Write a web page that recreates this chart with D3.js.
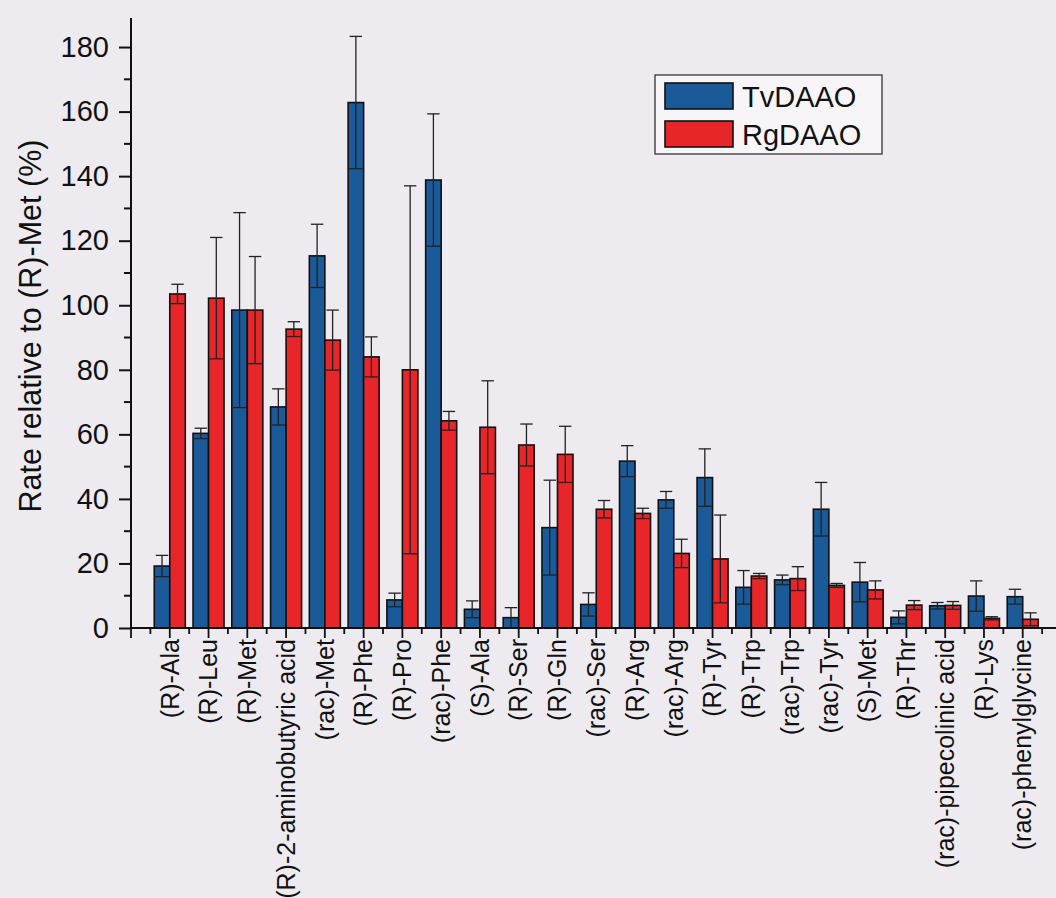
<!DOCTYPE html>
<html>
<head>
<meta charset="utf-8">
<script src="https://cdn.jsdelivr.net/npm/d3@7"></script>
<style>
html,body{margin:0;padding:0;background:#eeebf0;}
svg{display:block;}
text{font-family:"Liberation Sans",Arial,sans-serif;fill:#111;}
</style>
</head>
<body>
<svg id="chart" width="1056" height="898"></svg>
<script>
const categories = ["(R)-Ala","(R)-Leu","(R)-Met","(R)-2-aminobutyric acid","(rac)-Met","(R)-Phe","(R)-Pro","(rac)-Phe","(S)-Ala","(R)-Ser","(R)-Gln","(rac)-Ser","(R)-Arg","(rac)-Arg","(R)-Tyr","(R)-Trp","(rac)-Trp","(rac)-Tyr","(S)-Met","(R)-Thr","(rac)-pipecolinic acid","(R)-Lys","(rac)-phenylglycine"];
const tvValues = [19.2,60.3,98.5,68.5,115.3,162.8,8.7,138.8,5.8,3.2,31.1,7.3,51.7,39.7,46.6,12.6,14.9,36.8,14.2,3.3,6.9,9.9,9.7];
const tvErrors = [3.3,1.6,30.2,5.6,9.8,20.5,2.1,20.5,2.6,3.1,14.7,3.6,4.8,2.6,8.9,5.2,1.5,8.3,6.1,2.0,1.0,4.7,2.3];
const rgValues = [103.5,102.2,98.5,92.6,89.2,84.0,80.0,64.2,62.2,56.7,53.8,36.8,35.5,23.1,21.4,16.1,15.3,13.2,11.8,7.1,7.0,3.0,2.7];
const rgErrors = [3.0,18.8,16.6,2.3,9.3,6.2,57.0,2.9,14.4,6.5,8.7,2.7,1.6,4.4,13.6,0.8,3.7,0.6,2.8,1.4,1.2,0.5,2.0];
const seriesNames = ["TvDAAO","RgDAAO"];
const seriesColors = ["#1a5a98","#e8262a"];
const yTicks = [0,20,40,60,80,100,120,140,160,180];
const yLabel = "Rate relative to (R)-Met (%)";

const svg = d3.select("#chart");
const x = d3.scaleLinear().domain([-1, 23]).range([131, 1061.5]);
const y = d3.scaleLinear().domain([0, 189]).range([628, 18]);
const step = x(1) - x(0);
const barW = step * 0.4;

const series = [
  {name: seriesNames[0], values: tvValues, errors: tvErrors, color: seriesColors[0], off: -1},
  {name: seriesNames[1], values: rgValues, errors: rgErrors, color: seriesColors[1], off: 0}
];

// bars
series.forEach(s => {
  svg.append("g").selectAll("rect").data(s.values).join("rect")
    .attr("x", (d,i) => x(i) + s.off*barW)
    .attr("y", d => y(d))
    .attr("width", barW)
    .attr("height", d => y(0) - y(d))
    .attr("fill", s.color)
    .attr("stroke", "#111")
    .attr("stroke-width", 1.6);
});

// error bars
series.forEach(s => {
  const g = svg.append("g").attr("stroke", "#222").attr("stroke-width", 1.3);
  const capW = barW * 0.8;
  s.values.forEach((d,i) => {
    const cx = x(i) + s.off*barW + barW/2;
    const lo = Math.max(0, d - s.errors[i]), hi = d + s.errors[i];
    g.append("line").attr("x1", cx).attr("x2", cx).attr("y1", y(lo)).attr("y2", y(hi));
    g.append("line").attr("x1", cx - capW/2).attr("x2", cx + capW/2).attr("y1", y(hi)).attr("y2", y(hi));
    g.append("line").attr("x1", x(i) + s.off*barW + 1).attr("x2", x(i) + s.off*barW + barW - 1).attr("y1", y(lo)).attr("y2", y(lo));
  });
});

// y axis
const yAxis = svg.append("g").attr("transform", `translate(${x(-1)},0)`)
  .call(d3.axisLeft(y).tickValues(yTicks).tickSize(12).tickPadding(10).tickFormat(d3.format("d")));
yAxis.select(".domain").attr("d", `M0,${y(189)}V${y(0)}`).attr("stroke", "#111").attr("stroke-width", 2);
yAxis.selectAll(".tick line").attr("stroke", "#111").attr("stroke-width", 2);
yAxis.selectAll(".tick text").style("font-size", "29px").attr("fill", "#111");
const yMinor = d3.range(10, 190, 20);
svg.append("g").selectAll("line").data(yMinor).join("line")
  .attr("x1", x(-1) - 7).attr("x2", x(-1))
  .attr("y1", d => y(d)).attr("y2", d => y(d))
  .attr("stroke", "#111").attr("stroke-width", 2);

// x axis
svg.append("line").attr("x1", x(-1)).attr("x2", 1056).attr("y1", y(0)).attr("y2", y(0))
  .attr("stroke", "#111").attr("stroke-width", 2);
const xMajor = d3.range(-1, 23);
const xMinor = d3.range(-0.5, 23, 1);
svg.append("g").selectAll("line").data(xMajor).join("line")
  .attr("x1", d => x(d)).attr("x2", d => x(d))
  .attr("y1", y(0)).attr("y2", y(0) + 10)
  .attr("stroke", "#111").attr("stroke-width", 1.8);
svg.append("g").selectAll("line").data(xMinor).join("line")
  .attr("x1", d => x(d)).attr("x2", d => x(d))
  .attr("y1", y(0)).attr("y2", y(0) + 6)
  .attr("stroke", "#111").attr("stroke-width", 1.8);

svg.append("g").selectAll("text").data(categories).join("text")
  .attr("transform", (d,i) => `translate(${x(i)},${y(0) + 11}) rotate(-90)`)
  .attr("text-anchor", "end")
  .attr("dy", "0.35em")
  .style("font-size", "25px")
  .text(d => d);

// y label
svg.append("text")
  .attr("transform", `translate(41,326) rotate(-90)`)
  .attr("text-anchor", "middle")
  .style("font-size", "30.5px")
  .text(yLabel);

// legend
const lg = svg.append("g");
lg.append("rect").attr("x", 655).attr("y", 75).attr("width", 227).attr("height", 79)
  .attr("fill", "#f7f5f8").attr("stroke", "#333").attr("stroke-width", 1.3);
series.forEach((s,k) => {
  const yy = 83 + k*38;
  lg.append("rect").attr("x", 665).attr("y", yy).attr("width", 68).attr("height", 26)
    .attr("fill", s.color).attr("stroke", "#111").attr("stroke-width", 1.6);
  lg.append("text").attr("x", 742).attr("y", yy + 24).style("font-size", "29px").text(s.name);
});
</script>
</body>
</html>
